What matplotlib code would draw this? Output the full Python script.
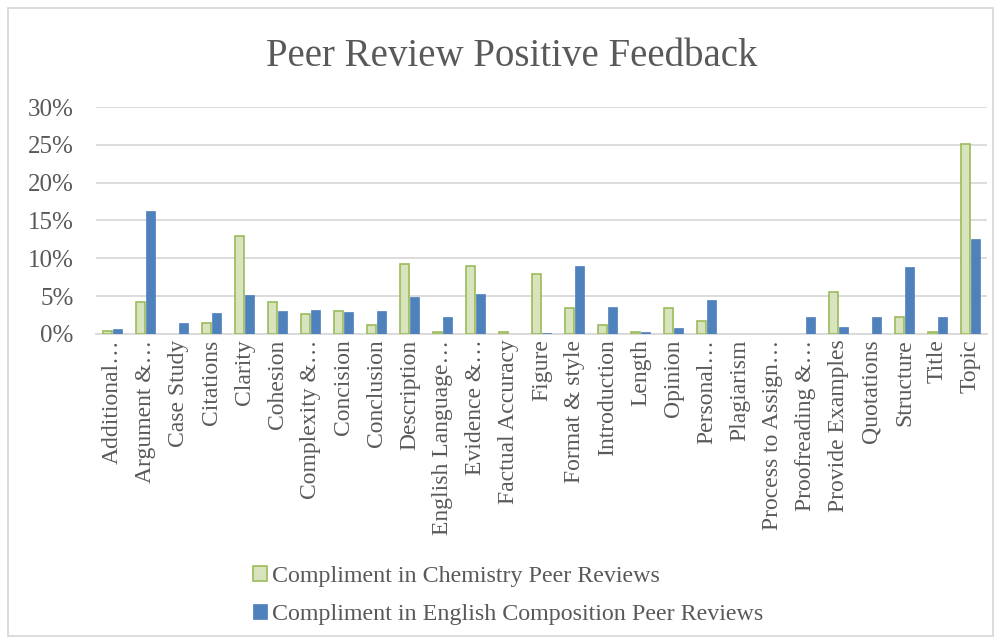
import numpy as np
import matplotlib
matplotlib.use("Agg")
import matplotlib.pyplot as plt
from matplotlib.patches import Rectangle
from matplotlib.ticker import PercentFormatter

# Categories (truncated as in the original chart)
categories = [
    "Additional…", "Argument &…", "Case Study", "Citations", "Clarity",
    "Cohesion", "Complexity &…", "Concision", "Conclusion", "Description",
    "English Language…", "Evidence &…", "Factual Accuracy", "Figure",
    "Format & style", "Introduction", "Length", "Opinion", "Personal…",
    "Plagiarism", "Process to Assign…", "Proofreading &…", "Provide Examples",
    "Quotations", "Structure", "Title", "Topic",
]

# Percent values
chemistry = [0.4, 4.2, 0.0, 1.4, 12.9, 4.2, 2.7, 3.05, 1.2, 9.3, 0.2, 9.0, 0.2,
             7.9, 3.5, 1.2, 0.3, 3.5, 1.7, 0.0, 0.0, 0.0, 5.5, 0.0, 2.3, 0.2, 25.1]
english = [0.6, 16.3, 1.5, 2.8, 5.1, 3.0, 3.2, 2.9, 3.05, 4.9, 2.25, 5.3, 0.0,
           0.1, 9.0, 3.6, 0.3, 0.75, 4.55, 0.0, 0.0, 2.2, 0.9, 2.2, 8.9, 2.2, 12.6]

series_labels = ["Compliment in Chemistry Peer Reviews",
                 "Compliment in English Composition Peer Reviews"]

text_color = "#595959"
grid_color = "#D9D9D9"
plt.rcParams["font.family"] = ["Liberation Serif", "DejaVu Serif"]

fig = plt.figure(figsize=(10.02, 6.42), dpi=100)
ax = fig.add_axes([96 / 1002, 1 - 334 / 642, (987 - 96) / 1002, (334 - 107) / 642])

x = np.arange(len(categories))
w = 0.26
# zero values draw no bar at all (not even an outline)
chem = np.array(chemistry, dtype=float)
eng = np.array(english, dtype=float)
ax.bar(x - 0.145, np.where(chem > 0, chem, np.nan), width=w, color="#D7E4BD",
       edgecolor="#9BBB59", linewidth=1.2, label=series_labels[0], zorder=3)
ax.bar(x + 0.145, np.where(eng > 0, eng, np.nan), width=w, color="#4F81BD",
       edgecolor="#4F81BD", linewidth=0.5, label=series_labels[1], zorder=3)

ax.set_xlim(-0.5, len(categories) - 0.5)
ax.set_ylim(0, 30)
ax.set_yticks(np.arange(0, 31, 5))
ax.yaxis.set_major_formatter(PercentFormatter(decimals=0))
ax.set_xticks(x)
ax.set_xticklabels(categories, rotation=90, fontsize=17, color=text_color)
ax.tick_params(axis="y", labelsize=18, colors=text_color, length=0, pad=16)
ax.tick_params(axis="x", length=0, pad=4)
ax.yaxis.grid(True, color=grid_color, linewidth=1.3, zorder=0)
for side in ["top", "right", "left"]:
    ax.spines[side].set_visible(False)
ax.spines["bottom"].set_color(grid_color)
ax.spines["bottom"].set_linewidth(1.3)

fig.text(512 / 1002, 1 - 57 / 642, "Peer Review Positive Feedback", ha="center",
         va="center", fontsize=28, color=text_color)

leg = fig.legend(loc="upper left", bbox_to_anchor=(231 / 1002, 1 - 544 / 642),
                 frameon=False, fontsize=17.3, labelcolor=text_color,
                 handlelength=0.6, handleheight=0.6, handletextpad=0.2,
                 labelspacing=0.7)

fig.patches.append(Rectangle((8 / 1002, 6 / 642), 985 / 1002, 628 / 642,
                             transform=fig.transFigure, fill=False,
                             edgecolor=grid_color, linewidth=1.3))

fig.savefig("out.png", dpi=100, facecolor="white")
